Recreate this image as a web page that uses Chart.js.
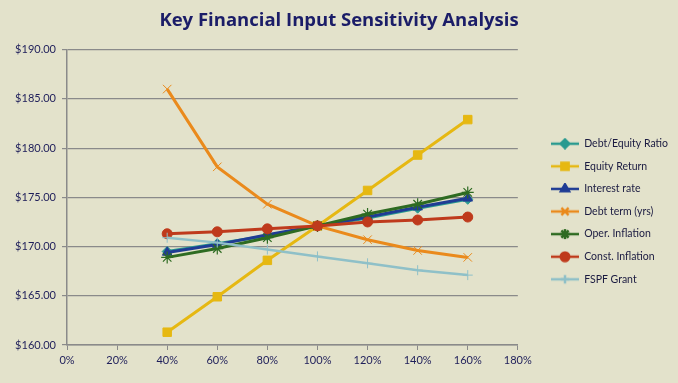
<!DOCTYPE html>
<html>
<head>
<meta charset="utf-8">
<script src="https://cdn.jsdelivr.net/npm/chart.js@4/dist/chart.umd.min.js"></script>
<style>
  html, body { margin: 0; padding: 0; background: #e3e2cb; }
  #wrap { width: 678px; height: 383px; }
</style>
</head>
<body>
<div id="wrap"><canvas id="sensChart" width="678" height="383"></canvas></div>
<script>
// input level (share of base value)
const levels = [0.4, 0.6, 0.8, 1.0, 1.2, 1.4, 1.6];

// resulting price per series
const debtEquity    = [169.5, 170.3, 171.1, 172.1, 172.9, 173.9, 174.8];
const equityReturn  = [161.3, 164.9, 168.6, 172.1, 175.7, 179.3, 182.9];
const interestRate  = [169.4, 170.2, 171.2, 172.1, 173.0, 174.0, 174.9];
const debtTerm      = [186.0, 178.1, 174.3, 172.1, 170.7, 169.6, 168.9];
const operInflation = [168.9, 169.8, 170.9, 172.1, 173.3, 174.3, 175.5];
const constInflation = [171.3, 171.5, 171.8, 172.1, 172.5, 172.7, 173.0];
const fspfGrant     = [170.9, 170.4, 169.7, 169.0, 168.3, 167.6, 167.1];

const seriesNames = ["Debt/Equity Ratio", "Equity Return", "Interest rate", "Debt term (yrs)",
  "Oper. Inflation", "Const. Inflation", "FSPF Grant"];
const seriesData = [debtEquity, equityReturn, interestRate, debtTerm, operInflation, constInflation, fspfGrant];

// axis ranges
const yMin = 160, yMax = 190, yStep = 5;
const xMin = 0, xMax = 1.8, xStep = 0.2;

const styles = [
  { color: "#2a9a90", point: "rectRot", radius: 5, pw: 1 },
  { color: "#e6b812", point: "rect", radius: 6, pw: 1 },
  { color: "#1f3c94", point: "triangle", radius: 5.5, pw: 1 },
  { color: "#ea8a1c", point: "crossRot", radius: 6, pw: 1 },
  { color: "#2e6b22", point: "star", radius: 6, pw: 1.2 },
  { color: "#bf3a1c", point: "circle", radius: 5, pw: 1 },
  { color: "#8fc0c8", point: "cross", radius: 5, pw: 1 }
];

const datasets = seriesNames.map((name, i) => ({
  label: name,
  data: levels.map((x, j) => ({ x: x, y: seriesData[i][j] })),
  borderColor: styles[i].color,
  backgroundColor: styles[i].color,
  pointBackgroundColor: styles[i].color,
  pointBorderColor: styles[i].color,
  pointStyle: styles[i].point,
  pointRadius: styles[i].radius,
  pointBorderWidth: styles[i].pw,
  borderWidth: i === 6 ? 2.5 : 3,
  showLine: true,
  tension: 0,
  order: -i   // later series drawn on top, like the original
}));

// small line + marker sample for the legend
function legendSample(st) {
  const c = document.createElement("canvas");
  c.width = 28; c.height = 12;
  const g = c.getContext("2d");
  g.strokeStyle = st.color;
  g.fillStyle = st.color;
  g.lineWidth = 2.5;
  g.beginPath(); g.moveTo(0, 6); g.lineTo(28, 6); g.stroke();
  Chart.helpers.drawPoint(g, { pointStyle: st.point, radius: st.radius * 0.85, borderWidth: st.pw, rotation: 0 }, 14, 6);
  return c;
}
const samples = styles.map(legendSample);

const bgPlugin = {
  id: "bg",
  beforeDraw(chart) {
    const ctx = chart.ctx;
    ctx.save();
    ctx.fillStyle = "#e3e2cb";
    ctx.fillRect(0, 0, chart.width, chart.height);
    ctx.restore();
  }
};

new Chart(document.getElementById("sensChart"), {
  type: "scatter",
  data: { datasets: datasets },
  plugins: [bgPlugin],
  options: {
    responsive: false,
    animation: false,
    layout: { padding: 0 },
    plugins: {
      title: {
        display: true,
        text: "Key Financial Input Sensitivity Analysis",
        color: "#1b1d68",
        font: { family: "Open Sans", size: 18.5, weight: "bold" },
        padding: { top: 9.5, bottom: 18 }
      },
      legend: {
        position: "right",
        maxWidth: 220,
        title: { display: true, text: "", font: { size: 10 }, padding: { top: 28, bottom: 0 } },
        labels: {
          usePointStyle: true,
          pointStyleWidth: 28,
          padding: 12.1,
          color: "#1a1a40",
          font: { family: "Lato", size: 10.5 },
          generateLabels: chart => seriesNames.map((name, i) => ({
            text: name,
            datasetIndex: i,
            pointStyle: samples[i],
            fillStyle: styles[i].color,
            strokeStyle: styles[i].color,
            lineWidth: 0,
            hidden: false,
            fontColor: "#1a1a40"
          }))
        }
      },
      tooltip: { enabled: false }
    },
    scales: {
      x: {
        type: "linear",
        min: xMin,
        max: xMax,
        afterFit: s => { s.height = 38; },
        ticks: {
          stepSize: xStep,
          color: "#1e1e5a",
          font: { family: "Lato", size: 11 },
          padding: 4,
          callback: v => Math.round(v * 100) + "%"
        },
        grid: { drawOnChartArea: false, color: "#8a8a8a", tickLength: 5 },
        border: { color: "#8a8a8a", width: 1.5 }
      },
      y: {
        min: yMin,
        max: yMax,
        afterFit: s => { s.width = 67; },
        ticks: {
          stepSize: yStep,
          color: "#1e1e5a",
          font: { family: "Lato", size: 11 },
          padding: 6,
          callback: v => "$" + v.toFixed(2)
        },
        grid: { color: "#8a8a8a", lineWidth: 1.2, tickLength: 5 },
        border: { color: "#8a8a8a", width: 1.5 }
      },
      gap: {
        position: "right",
        display: true,
        ticks: { display: false },
        grid: { display: false },
        border: { display: false },
        afterFit: s => { s.width = 21; }
      }
    }
  }
});
</script>
</body>
</html>
